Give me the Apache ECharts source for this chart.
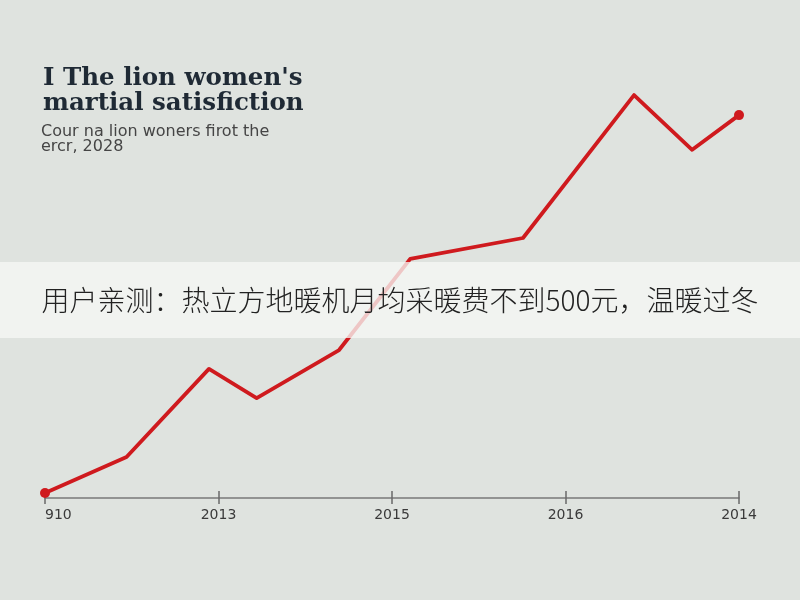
<!DOCTYPE html>
<html lang="en">
<head>
    <meta charset="UTF-8">
    <title>The lion women's martial satisfiction</title>
    <script src="https://cdn.jsdelivr.net/npm/echarts@6/dist/echarts.min.js"></script>
    <style>
        *{
            margin: 0;
            padding: 0;
        }
        body{
            width: 800px;
            height: 600px;
            overflow: hidden;
            background: #dfe3df;
        }
        .container{
            width: 800px;
            height: 600px;
        }
    </style>
</head>
<body>
<div class="container"></div>
<script>
    // tick labels along the bottom axis (as printed)
    let tickLabels = ['910', '2013', '2015', '2016', '2014'];
    // point positions along the axis (in tick steps) and their values
    let xPos = [0, 0.47, 0.945, 1.22, 1.695, 2.105, 2.755, 3.395, 3.73, 4];
    let values = [1.2, 9.8, 30.9, 23.9, 35.4, 57.2, 62.2, 96.4, 83.3, 91.6];

    let bannerText = '用户亲测：热立方地暖机月均采暖费不到500元，温暖过冬';

    let container = document.querySelector('.container');
    let mychart = echarts.init(container);

    let lineData = xPos.map((x, i) => {
        let item = {value: [x, values[i]]};
        if (i === 0 || i === xPos.length - 1) {
            item.symbol = 'circle';
            item.symbolSize = 10;
        }
        return item;
    });

    let axisLabel = {
        color: '#3a3a3a',
        fontSize: 14,
        fontFamily: 'DejaVu Sans',
        margin: 10,
        alignMinLabel: 'left',
        formatter: v => tickLabels[Math.round(v)] || ''
    };

    let options = {
        backgroundColor: '#dfe3df',
        animation: false,
        title: [{
            text: "I The lion women's\nmartial satisfiction",
            left: 38,
            top: 61,
            textStyle: {
                fontFamily: 'DejaVu Serif',
                fontWeight: 'bold',
                fontSize: 24.5,
                lineHeight: 25,
                color: '#1f2a35'
            }
        }, {
            text: 'Cour na lion woners firot the\nercr, 2028',
            left: 36,
            top: 119,
            textStyle: {
                fontFamily: 'DejaVu Sans',
                fontWeight: 'normal',
                fontSize: 16,
                lineHeight: 15,
                color: '#454545'
            }
        }],
        grid: {
            left: 45,
            right: 61,
            top: 80,
            bottom: 102
        },
        xAxis: [{
            type: 'value',
            min: 0,
            max: 4,
            interval: 1,
            axisLine: {lineStyle: {color: '#7a7a7a', width: 1.5}},
            axisTick: {show: true, length: 6, lineStyle: {color: '#6a6a6a', width: 1.5}},
            axisLabel,
            splitLine: {show: false}
        }, {
            type: 'value',
            position: 'bottom',
            min: 0,
            max: 4,
            interval: 1,
            axisLine: {show: false},
            axisTick: {show: true, inside: true, length: 7, lineStyle: {color: '#6a6a6a', width: 1.5}},
            axisLabel: {show: false},
            splitLine: {show: false}
        }],
        yAxis: {
            type: 'value',
            min: 0,
            max: 100,
            show: false,
            splitLine: {show: false}
        },
        series: [{
            type: 'line',
            data: lineData,
            symbol: 'none',
            showAllSymbol: true,
            lineStyle: {color: '#cf1a1e', width: 3.8, join: 'round'},
            itemStyle: {color: '#cf1a1e'},
            z: 3
        }],
        graphic: [{
            type: 'rect',
            z: 100,
            shape: {x: 0, y: 262, width: 800, height: 76},
            style: {fill: 'rgba(246,247,245,0.78)'}
        }, {
            type: 'text',
            z: 101,
            x: 400,
            y: 300,
            style: {
                text: bannerText,
                fill: '#222',
                font: '300 28px "Noto Sans CJK SC"',
                align: 'center',
                verticalAlign: 'middle'
            }
        }]
    };

    mychart.setOption(options);
</script>
</body>
</html>
